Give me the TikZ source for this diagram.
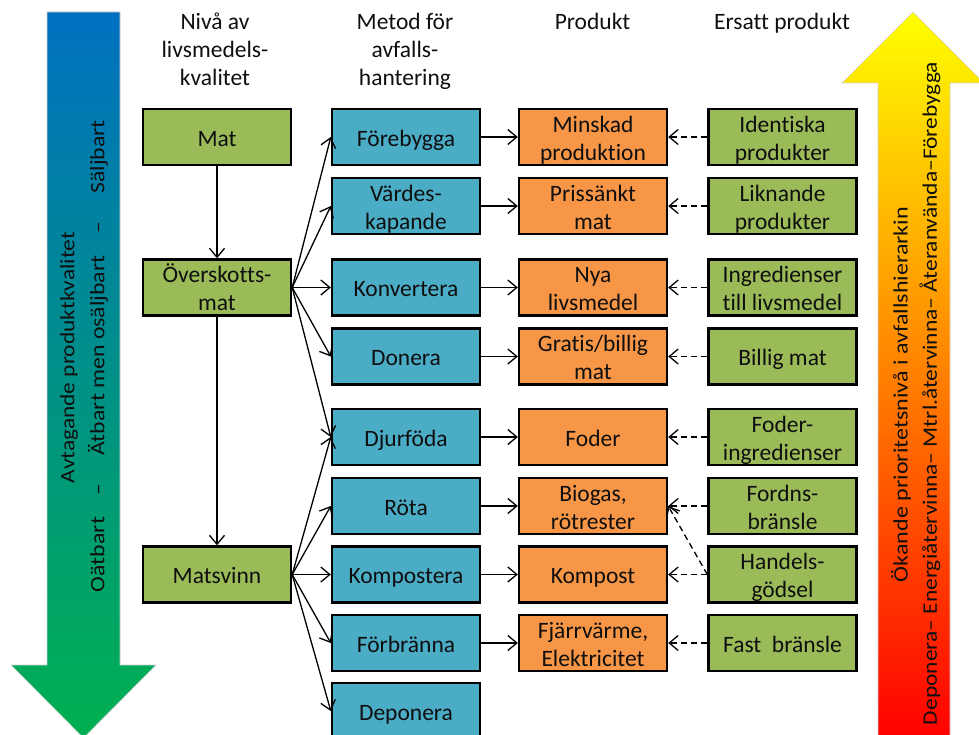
\documentclass[tikz,border=0pt]{standalone}
\usepackage{fontspec}
\setmainfont{Carlito}[Ligatures=NoCommon]
\usetikzlibrary{arrows.meta}
\definecolor{boxgreen}{RGB}{155,187,89}
\definecolor{boxblue}{RGB}{75,172,198}
\definecolor{boxorange}{RGB}{247,150,70}
\definecolor{txt}{RGB}{15,15,15}
\definecolor{qblue}{RGB}{0,112,192}
\definecolor{qgreen}{RGB}{0,176,80}
\definecolor{hyellow}{RGB}{255,255,0}
\definecolor{hred}{RGB}{255,0,0}
% line strut: keeps every text line the same height so box labels sit centred
\newcommand{\lstrut}{\rule[-4.6pt]{0pt}{28pt}}
\begin{document}
\begin{tikzpicture}[x=1pt,y=-1pt,
  box/.style={draw=black, line width=2.4pt, minimum width=148pt, minimum height=56pt,
    inner sep=0pt, align=center, font=\fontsize{23.5}{28}\selectfont, text=txt},
  lvl/.style={box, fill=boxgreen},
  meth/.style={box, fill=boxblue},
  prod/.style={box, fill=boxorange},
  subst/.style={box, fill=boxgreen},
  conn/.style={line width=1.3pt, -{Straight Barb[length=9pt,width=15pt]}},
  alt/.style={conn, dash pattern=on 6pt off 4pt},
  head/.style={align=center, font=\fontsize{23.5}{28}\selectfont, anchor=north, inner sep=0pt, text=txt},
  vtext/.style={rotate=90, inner sep=0pt, font=\fontsize{20.5}{24}\selectfont, text=txt}
]
\useasboundingbox (0,0) rectangle (979,735);

% quality arrow (left) and waste hierarchy arrow (right)
\shade[top color=qblue, bottom color=qgreen, draw=gray!35, line width=0.6pt]
  (47,12) -- (120,12) -- (120,665) -- (156,665) -- (83.5,738) -- (11,665) -- (47,665) -- cycle;
\shade[top color=hyellow, bottom color=hred, draw=gray!35, line width=0.6pt]
  (878,740) -- (878,83) -- (842,83) -- (913,12) -- (984,83) -- (950,83) -- (950,740) -- cycle;

\node[vtext] (qa) at (69,357.5) {\resizebox{251pt}{\height}{Avtagande produktkvalitet}};
\node[vtext] (qb) at (98,356) {\resizebox{472pt}{\height}{Oätbart\hspace{0.9em}–\hspace{1.2em}Ätbart men osäljbart\hspace{0.9em}–\hspace{1.2em}Säljbart}};
\node[vtext] (ha) at (901,394.5) {\resizebox{375pt}{\height}{Ökande prioritetsnivå i avfallshierarkin}};
\node[vtext] (hb) at (930,393.5) {\resizebox{663pt}{\height}{Deponera– Energiåtervinna– Mtrl.återvinna– Återanvända–Förebygga}};

% column headings
\node[head] (h1) at (215,6) {\lstrut Nivå av\\\lstrut livsmedels-\\\lstrut kvalitet};
\node[head] (h2) at (405,6) {\lstrut Metod för\\\lstrut avfalls-\\\lstrut hantering};
\node[head] (h3) at (592.5,6) {\lstrut Produkt};
\node[head] (h4) at (782,6) {\lstrut Ersatt produkt};

% food quality levels
\node[lvl] (mat) at (217,137) {\lstrut Mat};
\node[lvl] (over) at (217,287.5) {\lstrut Överskotts-\\\lstrut mat};
\node[lvl] (svinn) at (217,574.5) {\lstrut Matsvinn};

% handling methods
\node[meth] (m1) at (406,137) {\lstrut Förebygga};
\node[meth] (m2) at (406,206) {\lstrut Värdes-\\\lstrut kapande};
\node[meth] (m3) at (406,287.5) {\lstrut Konvertera};
\node[meth] (m4) at (406,356.5) {\lstrut Donera};
\node[meth] (m5) at (406,437) {\lstrut Djurföda};
\node[meth] (m6) at (406,506) {\lstrut Röta};
\node[meth] (m7) at (406,574.5) {\lstrut Kompostera};
\node[meth] (m8) at (406,643) {\lstrut Förbränna};
\node[meth] (m9) at (406,711) {\lstrut Deponera};

% products
\node[prod] (p1) at (593,137) {\lstrut Minskad\\\lstrut produktion};
\node[prod] (p2) at (593,206) {\lstrut Prissänkt\\\lstrut mat};
\node[prod] (p3) at (593,287.5) {\lstrut Nya\\\lstrut livsmedel};
\node[prod] (p4) at (593,356.5) {\lstrut Gratis/billig\\\lstrut mat};
\node[prod] (p5) at (593,437) {\lstrut Foder};
\node[prod] (p6) at (593,506) {\lstrut Biogas,\\\lstrut rötrester};
\node[prod] (p7) at (593,574.5) {\lstrut Kompost};
\node[prod] (p8) at (593,643) {\lstrut Fjärrvärme,\\\lstrut Elektricitet};

% replaced products
\node[subst] (s1) at (782.5,137) {\lstrut Identiska\\\lstrut produkter};
\node[subst] (s2) at (782.5,206) {\lstrut Liknande\\\lstrut produkter};
\node[subst] (s3) at (782.5,287.5) {\lstrut Ingredienser\\\lstrut till livsmedel};
\node[subst] (s4) at (782.5,356.5) {\lstrut Billig mat};
\node[subst] (s5) at (782.5,437) {\lstrut Foder-\\\lstrut ingredienser};
\node[subst] (s6) at (782.5,506) {\lstrut Fordns-\\\lstrut bränsle};
\node[subst] (s7) at (782.5,574.5) {\lstrut Handels-\\\lstrut gödsel};
\node[subst] (s8) at (782.5,643) {\lstrut Fast~~bränsle};

% quality chain
\draw[conn] (mat) -- (over);
\draw[conn] (over) -- (svinn);

% surplus food and food waste to methods
\foreach \m in {m1,m2,m3,m4,m5} \draw[conn] (over.east) -- (\m.west);
\foreach \m in {m5,m6,m7,m8,m9} \draw[conn] (svinn.east) -- (\m.west);

% methods to products
\foreach \i in {1,...,8} \draw[conn] (m\i.east) -- (p\i.west);

% replaced products
\foreach \i in {1,...,8} \draw[alt] (s\i.west) -- (p\i.east);
\draw[alt] (s7.west) -- (p6.east);
\end{tikzpicture}
\end{document}
